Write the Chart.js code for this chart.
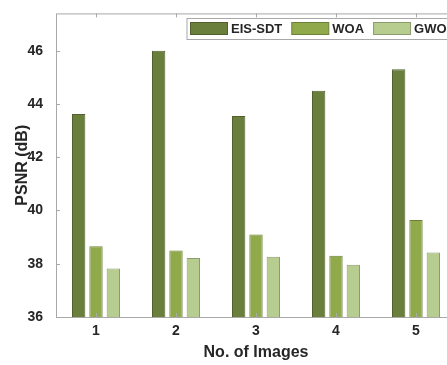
<!DOCTYPE html>
<html>
<head>
<meta charset="utf-8">
<script src="https://cdn.jsdelivr.net/npm/chart.js@4/dist/chart.umd.min.js"></script>
<style>
html,body{margin:0;padding:0;background:#fff;overflow:hidden;width:447px;height:365px}
canvas{display:block}
</style>
</head>
<body>
<canvas id="psnrChart" width="459" height="365"></canvas>
<script>
const images=['1','2','3','4','5'];
const eisSdt=[43.62,46.0,43.55,44.5,45.3];
const woa=[38.66,38.5,39.1,38.3,39.64];
const gwo=[37.82,38.22,38.26,37.96,38.42];
const yTicks=[36,38,40,42,44,46];

const axisGray='#a8a8a8';
const textCol='#262626';

// inward tick marks + box, like the matlab axes
const boxPlugin={
  id:'box',
  afterDatasetsDraw(chart){
    const {ctx,chartArea:a,scales:{x,y}}=chart;
    ctx.save();
    ctx.strokeStyle=axisGray;ctx.lineWidth=1;
    ctx.strokeRect(a.left+0.5,a.top+0.5,a.right-a.left,a.bottom-a.top);
    ctx.beginPath();
    yTicks.forEach(v=>{const py=Math.round(y.getPixelForValue(v))+0.5;ctx.moveTo(a.left,py);ctx.lineTo(a.left+4,py);});
    images.forEach((c,i)=>{const px=Math.round(x.getPixelForValue(i))+0.5;
      ctx.moveTo(px,a.bottom);ctx.lineTo(px,a.bottom-4);
      ctx.moveTo(px,a.top);ctx.lineTo(px,a.top+4);});
    ctx.stroke();
    ctx.restore();
  }
};

// legend box inside the plot, top right
const legendPlugin={
  id:'boxLegend',
  afterDraw(chart){
    const ctx=chart.ctx;
    const x0=187,y0=18.5,h=21,sw=37,shh=12;
    ctx.save();
    ctx.fillStyle='#fff';ctx.strokeStyle=axisGray;ctx.lineWidth=1;
    ctx.fillRect(x0,y0,290,h);ctx.strokeRect(x0,y0,290,h);
    ctx.font='bold 13px "Liberation Sans", Arial, sans-serif';
    ctx.textBaseline='middle';
    let cx=x0+3;
    chart.data.datasets.forEach(ds=>{
      ctx.fillStyle=ds.backgroundColor;ctx.strokeStyle=ds.borderColor;
      ctx.fillRect(cx+0.5,y0+4,sw,shh);ctx.strokeRect(cx+0.5,y0+4,sw,shh);
      cx+=sw+4;
      ctx.fillStyle=textCol;
      ctx.fillText(ds.label,cx,y0+h/2+0.5);
      cx+=ctx.measureText(ds.label).width+9;
    });
    ctx.restore();
  }
};

new Chart(document.getElementById('psnrChart'),{
  type:'bar',
  data:{labels:images,datasets:[
    {label:'EIS-SDT',data:eisSdt,backgroundColor:'#6b7f3c',borderColor:'#51602e',borderWidth:1},
    {label:'WOA',data:woa,backgroundColor:'#8fa94b',borderColor:'#6c8038',borderWidth:1},
    {label:'GWO',data:gwo,backgroundColor:'#b7cc8f',borderColor:'#8d9c6d',borderWidth:1}
  ]},
  options:{
    responsive:false,animation:false,
    categoryPercentage:0.65,barPercentage:0.77,
    layout:{padding:{top:9,right:3,left:0,bottom:0}},
    plugins:{legend:{display:false},tooltip:{enabled:false}},
    scales:{
      x:{
        grid:{display:false},border:{display:false},
        ticks:{color:textCol,padding:-2,font:{family:'"Liberation Sans", Arial, sans-serif',size:14,weight:'bold'}},
        title:{display:true,text:'No. of Images',color:textCol,padding:{bottom:3},font:{family:'"Liberation Sans", Arial, sans-serif',size:16,weight:'bold'}},
        afterFit(s){s.height=48;}
      },
      y:{
        min:36,max:47.4,
        grid:{display:false},border:{display:false},
        ticks:{stepSize:2,color:textCol,padding:5,font:{family:'"Liberation Sans", Arial, sans-serif',size:14,weight:'bold'}},
        afterBuildTicks(s){s.ticks=yTicks.map(v=>({value:v}));},
        title:{display:true,text:'PSNR (dB)',color:textCol,padding:{top:13},font:{family:'"Liberation Sans", Arial, sans-serif',size:16,weight:'bold'}},
        afterFit(s){s.width=56;}
      }
    }
  },
  plugins:[boxPlugin,legendPlugin]
});
</script>
</body>
</html>
